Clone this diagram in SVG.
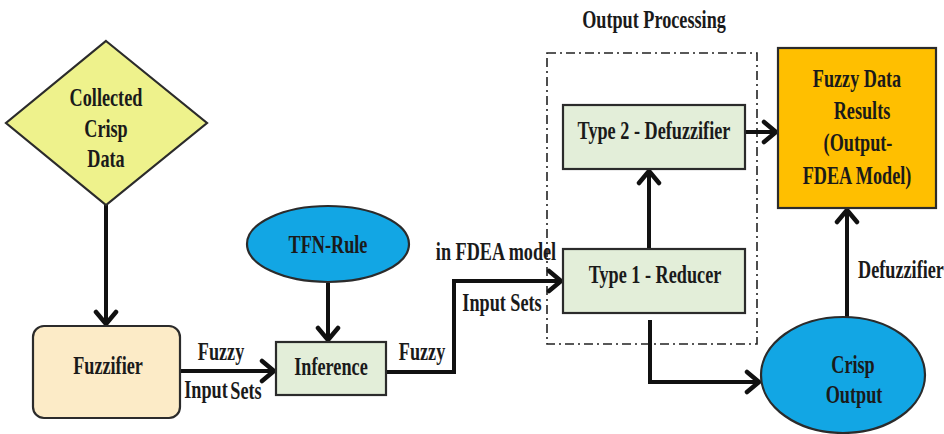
<svg xmlns="http://www.w3.org/2000/svg" width="944" height="434" viewBox="0 0 944 434">
  <defs>
    <marker id="arrow" markerUnits="userSpaceOnUse" markerWidth="20" markerHeight="26" viewBox="0 0 20 26" refX="15" refY="13" orient="auto">
      <path d="M3,3 L15,13 L3,23" fill="none" stroke="#111" stroke-width="4.5" stroke-linecap="round" stroke-linejoin="miter"/>
    </marker>
    <style>
      text { font-family: "Liberation Serif", "Times New Roman", serif; font-weight: bold; font-size: 26px; fill: #1a1a1a; text-anchor: middle; }
      .node { stroke: #2b2b2b; stroke-width: 2.2; }
      .edge { fill: none; stroke: #111; stroke-width: 4; stroke-linejoin: miter; }
      .group { fill: none; stroke: #222; stroke-width: 1.6; stroke-dasharray: 9 4 2 4; }
    </style>
  </defs>

  <rect width="944" height="434" fill="#ffffff"/>

  <!-- output processing boundary -->
  <g id="output-processing">
    <rect class="group" x="547" y="53" width="210" height="291"/>
    <text transform="translate(654,28) scale(0.7,1)">Output Processing</text>
  </g>

  <g id="connectors">
    <path class="edge" d="M106,205 V324" marker-end="url(#arrow)"/>
    <path class="edge" d="M180,371 H274" marker-end="url(#arrow)"/>
    <path class="edge" d="M328,283 V340" marker-end="url(#arrow)"/>
    <path class="edge" d="M386,372 H454 V281 H561" marker-end="url(#arrow)"/>
    <path class="edge" d="M649,249 V171" marker-end="url(#arrow)"/>
    <path class="edge" d="M745,132 H776" marker-end="url(#arrow)"/>
    <path class="edge" d="M650,320 V382 H759" marker-end="url(#arrow)"/>
    <path class="edge" d="M847,317 V210" marker-end="url(#arrow)"/>
    <text transform="translate(221,360) scale(0.7,1)">Fuzzy</text>
    <text transform="translate(206,398) scale(0.7,1)">Input</text>
    <text transform="translate(246,399) scale(0.7,1)">Sets</text>
    <text transform="translate(422,360) scale(0.7,1)">Fuzzy</text>
    <text transform="translate(496,260) scale(0.7,1)">in FDEA model</text>
    <text transform="translate(502,311) scale(0.7,1)">Input Sets</text>
    <text transform="translate(901,278) scale(0.7,1)">Defuzzifier</text>
  </g>

  <g id="collected-crisp-data">
    <polygon class="node" points="106,41 207,123 106,205 6,123" fill="#EEF28C"/>
    <text transform="translate(106,106) scale(0.7,1)">Collected</text>
    <text transform="translate(106,137) scale(0.7,1)">Crisp</text>
    <text transform="translate(106,167) scale(0.7,1)">Data</text>
  </g>

  <g id="fuzzifier">
    <rect class="node" x="33" y="326" width="147" height="92" rx="11" fill="#FCEBC7"/>
    <text transform="translate(108,374) scale(0.7,1)">Fuzzifier</text>
  </g>

  <g id="tfn-rule">
    <ellipse class="node" cx="328" cy="244" rx="81" ry="38" fill="#12A6E4"/>
    <text transform="translate(328,253) scale(0.7,1)">TFN-Rule</text>
  </g>

  <g id="inference">
    <rect class="node" x="276" y="342" width="110" height="53" fill="#E3EED9"/>
    <text transform="translate(331,375) scale(0.7,1)">Inference</text>
  </g>

  <g id="type1-reducer">
    <rect class="node" x="563" y="249" width="182" height="64" fill="#E3EED9"/>
    <text transform="translate(655,283) scale(0.7,1)">Type 1 - Reducer</text>
  </g>

  <g id="type2-defuzzifier">
    <rect class="node" x="563" y="105" width="182" height="64" fill="#E3EED9"/>
    <text transform="translate(654,139) scale(0.7,1)">Type 2 - Defuzzifier</text>
  </g>

  <g id="fuzzy-data-results">
    <rect class="node" x="778" y="48" width="158" height="160" fill="#FFBF00"/>
    <text transform="translate(857,87) scale(0.7,1)">Fuzzy Data</text>
    <text transform="translate(862,119) scale(0.7,1)">Results</text>
    <text transform="translate(858,151) scale(0.7,1)">(Output-</text>
    <text transform="translate(857,184) scale(0.7,1)">FDEA Model)</text>
  </g>

  <g id="crisp-output">
    <ellipse class="node" cx="843" cy="375" rx="82" ry="58" fill="#12A6E4"/>
    <text transform="translate(853,373) scale(0.7,1)">Crisp</text>
    <text transform="translate(854,403) scale(0.7,1)">Output</text>
  </g>
</svg>
